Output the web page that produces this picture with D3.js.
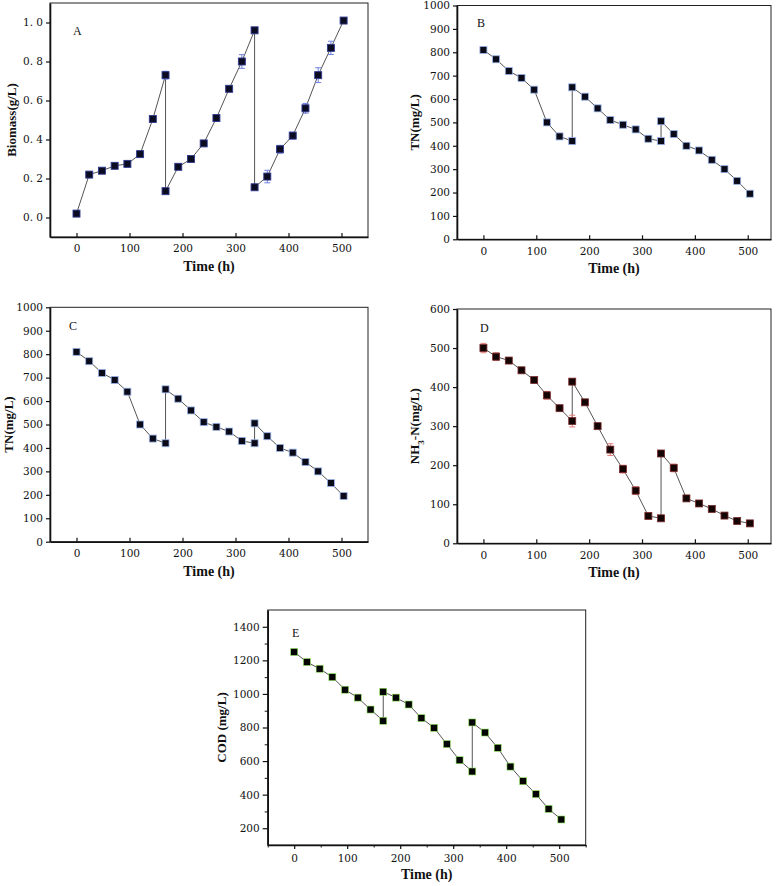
<!DOCTYPE html>
<html>
<head>
<meta charset="utf-8">
<script src="https://cdn.jsdelivr.net/npm/d3@7"></script>
<style>
  html, body { margin: 0; padding: 0; background: #fff; }
  svg { display: block; }
  .title { font-family: "Liberation Serif", "Times New Roman", serif; font-weight: bold; fill: #111; }
  .letter { font-family: "Liberation Serif", serif; font-size: 12px; fill: #111; }
</style>
</head>
<body>
<svg id="chart" width="777" height="886"></svg>
<script>
// ---------- data ----------
const times = [0, 24, 48, 72, 96, 120, 144, 168, 168, 192, 216, 240, 264, 288, 312, 336, 336, 360, 384, 408, 432, 456, 480, 504];

const biomass    = [0.02, 0.22, 0.24, 0.265, 0.275, 0.325, 0.505, 0.73, 0.135, 0.26, 0.30, 0.38, 0.51, 0.66, 0.80, 0.96, 0.155, 0.21, 0.35, 0.42, 0.56, 0.73, 0.87, 1.01];
const biomassErr = [0.005, 0.008, 0.006, 0.006, 0.008, 0.008, 0.008, 0.02, 0.01, 0.008, 0.008, 0.008, 0.015, 0.006, 0.035, 0.008, 0.01, 0.032, 0.02, 0.017, 0.025, 0.038, 0.034, 0.006];

const tn    = [810, 770, 720, 690, 640, 500, 440, 420, 650, 610, 560, 510, 490, 470, 430, 420, 505, 450, 400, 380, 340, 300, 250, 195];
const tnErr = [5, 12, 5, 5, 5, 12, 8, 5, 5, 10, 12, 10, 5, 5, 12, 5, 12, 5, 5, 5, 12, 12, 5, 5];

const nh3    = [500, 478, 468, 443, 418, 379, 346, 313, 414, 361, 300, 240, 190, 135, 70, 64, 230, 193, 115, 102, 88, 71, 57, 51];
const nh3Err = [12, 10, 4, 6, 5, 10, 5, 15, 6, 6, 5, 15, 10, 10, 5, 4, 5, 10, 5, 6, 4, 4, 5, 5];

const cod    = [1250, 1190, 1150, 1100, 1025, 978, 907, 840, 1013, 978, 937, 856, 798, 701, 605, 538, 830, 770, 679, 567, 480, 403, 315, 252];
const codErr = [10, 8, 10, 12, 10, 8, 12, 10, 10, 8, 15, 10, 15, 15, 8, 8, 10, 10, 15, 10, 10, 10, 10, 10];

const xTicks      = [0, 100, 200, 300, 400, 500];
const xMinorTicks = [-50, 50, 150, 250, 350, 450, 550];
const yTicksA = [0.0, 0.2, 0.4, 0.6, 0.8, 1.0];
const yTicksTN = [0, 100, 200, 300, 400, 500, 600, 700, 800, 900, 1000];
const yTicksNH = [0, 100, 200, 300, 400, 500, 600];
const yTicksCOD = [200, 400, 600, 800, 1000, 1200, 1400];
const yMinorCOD = [300, 500, 700, 900, 1100, 1300];

// ---------- layout / style ----------
const panels = [
  { letter: "A", values: biomass, errs: biomassErr, box: [50, 3, 368, 237], xDom: [-50, 550], yDom: [-0.1, 1.1],
    yTicks: yTicksA, fmt: d3.format(".1f"), yTitle: [{t: "Biomass(g/L)"}], yTitleX: 16, letterPos: [73, 35],
    fill: "#0b0b22", edge: "#2f3a8f", edgeW: 0.9, err: "#6f80e0", spaced: true },
  { letter: "B", values: tn, errs: tnErr, box: [457, 5.5, 771, 239.3], xDom: [-50, 544], yDom: [0, 1000],
    yTicks: yTicksTN, fmt: d3.format("d"), yTitle: [{t: "TN(mg/L)"}], yTitleX: 419, letterPos: [477, 26.5],
    fill: "#0a0a18", edge: "#9ab4ea", edgeW: 0.8, err: "#9ab4ea" },
  { letter: "C", values: tn, errs: tnErr, box: [50, 307.3, 368, 541.7], xDom: [-50, 550], yDom: [0, 1000],
    yTicks: yTicksTN, fmt: d3.format("d"), yTitle: [{t: "TN(mg/L)"}], yTitleX: 13, letterPos: [69, 330],
    fill: "#0a0a18", edge: "#9ab4ea", edgeW: 0.8, err: "#9ab4ea" },
  { letter: "D", values: nh3, errs: nh3Err, box: [457, 309, 771, 543.3], xDom: [-50, 544], yDom: [0, 600],
    yTicks: yTicksNH, fmt: d3.format("d"), yTitle: [{t: "NH"}, {t: "3", sub: true}, {t: "-N(mg/L)"}], yTitleX: 419, letterPos: [480, 331.5],
    fill: "#140404", edge: "#7a2a2a", edgeW: 0.8, err: "#e07a7a" },
  { letter: "E", values: cod, errs: codErr, box: [267.7, 610, 585.7, 845], xDom: [-50, 550], yDom: [100, 1500],
    yTicks: yTicksCOD, fmt: d3.format("d"), yTitle: [{t: "COD (mg/L)"}], yTitleX: 226, letterPos: [292, 636.5],
    fill: "#050505", edge: "#8fe85a", edgeW: 0.6, err: "#8fe85a", outward: true, yMinor: yMinorCOD }
];

const tickFont = "'DejaVu Serif', serif";
const svg = d3.select("#chart");

function styleAxis(sel) {
  sel.attr("font-family", null).attr("font-size", null);
  sel.selectAll(".tick text")
    .style("font-family", tickFont).style("font-size", "10.5px").attr("fill", "#111");
}

panels.forEach(p => {
  const [x0, y0, x1, y1] = p.box;
  const x = d3.scaleLinear().domain(p.xDom).range([x0, x1]);
  const y = d3.scaleLinear().domain(p.yDom).range([y1, y0]);
  const g = svg.append("g");

  // frame (top/right thin)
  g.append("rect").attr("x", x0).attr("y", y0).attr("width", x1 - x0).attr("height", y1 - y0)
    .attr("fill", "none").attr("stroke", "#222").attr("stroke-width", 1);

  // x axis
  const xAxis = d3.axisBottom(x).tickValues(xTicks).tickFormat(d3.format("d"));
  if (p.outward) xAxis.tickSizeInner(4).tickSizeOuter(0).tickPadding(6);
  else xAxis.tickSizeInner(-4).tickSizeOuter(0).tickPadding(8);
  const gx = g.append("g").attr("transform", `translate(0,${y1})`).call(xAxis).call(styleAxis);
  gx.select(".domain").attr("stroke", "#111").attr("stroke-width", 1.6);
  gx.selectAll(".tick line").attr("stroke", "#111").attr("stroke-width", 1.2);
  if (p.outward) {
    g.append("g").attr("transform", `translate(0,${y1})`)
      .call(d3.axisBottom(x).tickValues(xMinorTicks).tickSize(2.5).tickFormat(""))
      .call(s => { s.select(".domain").remove(); s.selectAll("line").attr("stroke", "#111"); });
  }

  // y axis
  const yAxis = d3.axisLeft(y).tickValues(p.yTicks).tickFormat(p.fmt).tickSizeInner(p.outward ? 5 : 4).tickSizeOuter(0).tickPadding(3);
  const gy = g.append("g").attr("transform", `translate(${x0},0)`).call(yAxis).call(styleAxis);
  gy.select(".domain").attr("stroke", "#111").attr("stroke-width", 1.6);
  gy.selectAll(".tick line").attr("stroke", "#111").attr("stroke-width", 1.2);
  if (p.spaced) gy.selectAll(".tick text").text(d => p.fmt(d).replace(".", ". "));
  if (p.yMinor) {
    g.append("g").attr("transform", `translate(${x0},0)`)
      .call(d3.axisLeft(y).tickValues(p.yMinor).tickSize(3).tickFormat(""))
      .call(s => { s.select(".domain").remove(); s.selectAll("line").attr("stroke", "#111"); });
  }

  // titles
  g.append("text").attr("class", "title").attr("font-size", 14)
    .attr("x", (x0 + x1) / 2).attr("y", y1 + 34).attr("text-anchor", "middle").text("Time (h)");
  const yt = g.append("text").attr("class", "title").attr("font-size", 13)
    .attr("transform", `translate(${p.yTitleX},${(y0 + y1) / 2}) rotate(-90)`).attr("text-anchor", "middle");
  p.yTitle.forEach(part => {
    const ts = yt.append("tspan").text(part.t);
    if (part.sub) ts.attr("baseline-shift", "sub").attr("font-size", 9);
  });

  // panel letter
  g.append("text").attr("class", "letter").attr("x", p.letterPos[0]).attr("y", p.letterPos[1]).text(p.letter);

  const pts = times.map((t, i) => ({ t, v: p.values[i], e: p.errs[i] }));

  // line
  g.append("path").datum(pts)
    .attr("d", d3.line().x(d => x(d.t)).y(d => y(d.v)))
    .attr("fill", "none").attr("stroke", "#555").attr("stroke-width", 1);

  // error bars
  const eb = g.append("g").attr("stroke", p.err).attr("stroke-width", 1);
  pts.forEach(d => {
    const cx = x(d.t), ya = y(d.v + d.e), yb = y(d.v - d.e);
    eb.append("line").attr("x1", cx).attr("x2", cx).attr("y1", ya).attr("y2", yb);
    eb.append("line").attr("x1", cx - 3).attr("x2", cx + 3).attr("y1", ya).attr("y2", ya);
    eb.append("line").attr("x1", cx - 3).attr("x2", cx + 3).attr("y1", yb).attr("y2", yb);
  });

  // markers
  g.append("g").selectAll("rect").data(pts).join("rect")
    .attr("x", d => x(d.t) - 3.5).attr("y", d => y(d.v) - 3.5)
    .attr("width", 7).attr("height", 7)
    .attr("fill", p.fill).attr("stroke", p.edge).attr("stroke-width", p.edgeW);
});
</script>
</body>
</html>
